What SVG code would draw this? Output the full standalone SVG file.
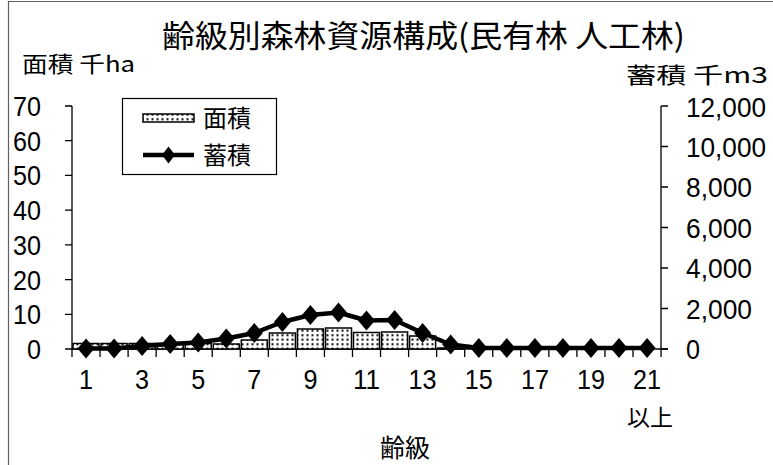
<svg xmlns="http://www.w3.org/2000/svg" width="773" height="465" viewBox="0 0 773 465">
<defs>
<pattern id="dots" width="5" height="4.5" patternUnits="userSpaceOnUse">
<rect width="5" height="4.5" fill="#fff"/>
<rect x="1.5" y="1.2" width="2" height="2" fill="#000"/>
</pattern>
<style>
.jp{font-family:"Noto Sans CJK JP","Noto Sans",sans-serif;fill:#000}
.num{font-family:"Liberation Sans",Arial,sans-serif;font-size:28px;fill:#000}
.ax{stroke:#000;stroke-width:1.3;fill:none}
.bar{fill:url(#dots);stroke:#000;stroke-width:1.5}
.ln{stroke:#000;stroke-width:4.5;fill:none;stroke-linejoin:round}
.dm{fill:#000}
</style>
<path id="dia" d="M0,-10 L8.5,0 L0,10 L-8.5,0 Z"/>
</defs>
<rect width="773" height="465" fill="#fff"/>
<path d="M8.5,465 V1.5 H773" stroke="#606060" stroke-width="1.2" fill="none"/>

<g id="title">
<text class="jp" x="162" y="47" font-size="31" textLength="523" lengthAdjust="spacingAndGlyphs">齢級別森林資源構成(民有林 人工林)</text>
</g>
<g id="y-left-title"><text class="jp" x="22" y="72" font-size="22" textLength="113" lengthAdjust="spacingAndGlyphs">面積 千ha</text></g>
<g id="y-right-title"><text class="jp" x="626" y="83" font-size="22" textLength="142" lengthAdjust="spacingAndGlyphs">蓄積 千m3</text></g>

<g id="axes">
<path class="ax" d="M72,106 V349 M65,106 H72 M65,140.7 H72 M65,175.4 H72 M65,210.1 H72 M65,244.9 H72 M65,279.6 H72 M65,314.3 H72 M65,349 H72"/>
<path class="ax" d="M661,106 V349 M661,106 H668 M661,146.5 H668 M661,187 H668 M661,227.5 H668 M661,268 H668 M661,308.5 H668 M661,349 H668"/>
<path class="ax" d="M72,349 H668 M72,349 V357 M100.05,349 V357 M128.1,349 V357 M156.15,349 V357 M184.2,349 V357 M212.25,349 V357 M240.3,349 V357 M268.35,349 V357 M296.4,349 V357 M324.45,349 V357 M352.5,349 V357 M380.55,349 V357 M408.6,349 V357 M436.65,349 V357 M464.7,349 V357 M492.75,349 V357 M520.8,349 V357 M548.85,349 V357 M576.9,349 V357 M604.95,349 V357 M633,349 V357 M661.05,349 V357"/>
</g>

<g id="y-left-labels" text-anchor="end">
<text class="num" x="41" y="116" textLength="28" lengthAdjust="spacingAndGlyphs">70</text>
<text class="num" x="41" y="151" textLength="28" lengthAdjust="spacingAndGlyphs">60</text>
<text class="num" x="41" y="185" textLength="28" lengthAdjust="spacingAndGlyphs">50</text>
<text class="num" x="41" y="220" textLength="28" lengthAdjust="spacingAndGlyphs">40</text>
<text class="num" x="41" y="255" textLength="28" lengthAdjust="spacingAndGlyphs">30</text>
<text class="num" x="41" y="290" textLength="28" lengthAdjust="spacingAndGlyphs">20</text>
<text class="num" x="41" y="324" textLength="28" lengthAdjust="spacingAndGlyphs">10</text>
<text class="num" x="41" y="359" textLength="14" lengthAdjust="spacingAndGlyphs">0</text>
</g>
<g id="y-right-labels">
<text class="num" x="686" y="117" textLength="80" lengthAdjust="spacingAndGlyphs">12,000</text>
<text class="num" x="686" y="157" textLength="80" lengthAdjust="spacingAndGlyphs">10,000</text>
<text class="num" x="686" y="197" textLength="66" lengthAdjust="spacingAndGlyphs">8,000</text>
<text class="num" x="686" y="238" textLength="66" lengthAdjust="spacingAndGlyphs">6,000</text>
<text class="num" x="686" y="278" textLength="66" lengthAdjust="spacingAndGlyphs">4,000</text>
<text class="num" x="686" y="319" textLength="66" lengthAdjust="spacingAndGlyphs">2,000</text>
<text class="num" x="686" y="359" textLength="14" lengthAdjust="spacingAndGlyphs">0</text>
</g>
<g id="x-labels" text-anchor="middle">
<text class="num" x="86" y="389" textLength="14" lengthAdjust="spacingAndGlyphs">1</text>
<text class="num" x="142.1" y="389" textLength="14" lengthAdjust="spacingAndGlyphs">3</text>
<text class="num" x="198.2" y="389" textLength="14" lengthAdjust="spacingAndGlyphs">5</text>
<text class="num" x="254.3" y="389" textLength="14" lengthAdjust="spacingAndGlyphs">7</text>
<text class="num" x="310.4" y="389" textLength="14" lengthAdjust="spacingAndGlyphs">9</text>
<text class="num" x="366.5" y="389" textLength="27" lengthAdjust="spacingAndGlyphs">11</text>
<text class="num" x="422.6" y="389" textLength="28" lengthAdjust="spacingAndGlyphs">13</text>
<text class="num" x="478.8" y="389" textLength="28" lengthAdjust="spacingAndGlyphs">15</text>
<text class="num" x="534.9" y="389" textLength="28" lengthAdjust="spacingAndGlyphs">17</text>
<text class="num" x="591" y="389" textLength="28" lengthAdjust="spacingAndGlyphs">19</text>
<text class="num" x="647.1" y="389" textLength="28" lengthAdjust="spacingAndGlyphs">21</text>
<text class="jp" x="650" y="426" font-size="23">以上</text>
<text class="jp" x="405" y="457" font-size="25">齢級</text>
</g>

<g id="bars">
<rect class="bar" x="73" y="343.5" width="26" height="5.5"/>
<rect class="bar" x="101.1" y="343.5" width="26" height="5.5"/>
<rect class="bar" x="129.1" y="343.5" width="26" height="5.5"/>
<rect class="bar" x="157.2" y="343.5" width="26" height="5.5"/>
<rect class="bar" x="185.2" y="343.5" width="26" height="5.5"/>
<rect class="bar" x="213.3" y="344" width="26" height="5"/>
<rect class="bar" x="241.3" y="340" width="26" height="9"/>
<rect class="bar" x="269.4" y="333" width="26" height="16"/>
<rect class="bar" x="297.4" y="329" width="26" height="20"/>
<rect class="bar" x="325.5" y="328" width="26" height="21"/>
<rect class="bar" x="353.5" y="332.5" width="26" height="16.5"/>
<rect class="bar" x="381.6" y="332" width="26" height="17"/>
<rect class="bar" x="409.6" y="336" width="26" height="13"/>
<rect class="bar" x="437.7" y="348" width="26" height="1"/>
</g>

<g id="connectors">
<polyline class="ln" points="86,348.5 114.1,348.5 142.1,346 170.2,344 198.2,342.5 226.3,338.5 254.3,333 282.4,322 310.4,315 338.5,312.5 366.5,320.5 394.6,320 422.6,333 450.7,344.5 478.8,348 506.8,348 534.9,348 562.9,348 591,348 619,348 647.1,348"/>
</g>
<g id="markers">
<use href="#dia" class="dm" x="86" y="348.5"/>
<use href="#dia" class="dm" x="114.1" y="348.5"/>
<use href="#dia" class="dm" x="142.1" y="346"/>
<use href="#dia" class="dm" x="170.2" y="344"/>
<use href="#dia" class="dm" x="198.2" y="342.5"/>
<use href="#dia" class="dm" x="226.3" y="338.5"/>
<use href="#dia" class="dm" x="254.3" y="333"/>
<use href="#dia" class="dm" x="282.4" y="322"/>
<use href="#dia" class="dm" x="310.4" y="315"/>
<use href="#dia" class="dm" x="338.5" y="312.5"/>
<use href="#dia" class="dm" x="366.5" y="320.5"/>
<use href="#dia" class="dm" x="394.6" y="320"/>
<use href="#dia" class="dm" x="422.6" y="333"/>
<use href="#dia" class="dm" x="450.7" y="344.5"/>
<use href="#dia" class="dm" x="478.8" y="348"/>
<use href="#dia" class="dm" x="506.8" y="348"/>
<use href="#dia" class="dm" x="534.9" y="348"/>
<use href="#dia" class="dm" x="562.9" y="348"/>
<use href="#dia" class="dm" x="591" y="348"/>
<use href="#dia" class="dm" x="619" y="348"/>
<use href="#dia" class="dm" x="647.1" y="348"/>
</g>

<g id="legend">
<rect x="122.5" y="98.5" width="154" height="76" fill="#fff" stroke="#000" stroke-width="1.2"/>
<rect class="bar" x="143" y="114" width="51" height="8"/>
<text class="jp" x="203" y="127" font-size="24">面積</text>
<line x1="143" y1="155" x2="194" y2="155" stroke="#000" stroke-width="4.5"/>
<path d="M168.5,146.5 L175,155 L168.5,163.5 L162,155 Z" fill="#000"/>
<text class="jp" x="203" y="164" font-size="24">蓄積</text>
</g>
</svg>
